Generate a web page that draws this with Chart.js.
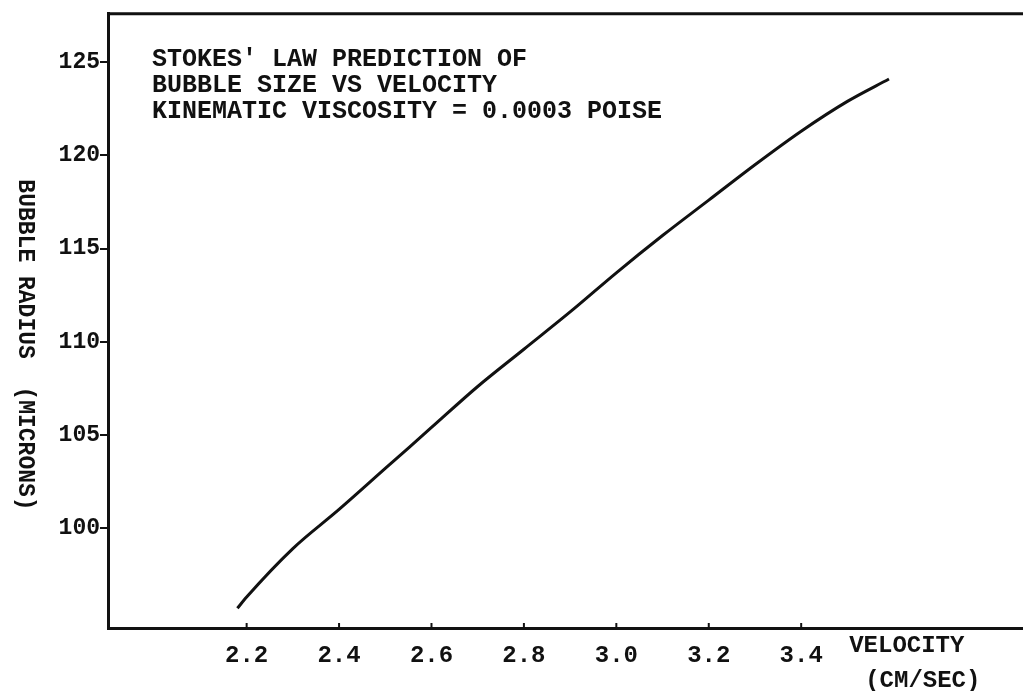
<!DOCTYPE html>
<html>
<head>
<meta charset="utf-8">
<script src="https://cdn.jsdelivr.net/npm/chart.js@4.4.1/dist/chart.umd.min.js"></script>
<style>
  html, body { margin: 0; padding: 0; background: #fff; }
  #wrap { width: 1023px; height: 691px; }
</style>
</head>
<body>
<div id="wrap"><canvas id="bubbleChart" width="1023" height="691"></canvas></div>
<script>
// values
const velocity = [2.18, 2.2, 2.3, 2.4, 2.5, 2.6, 2.7, 2.8, 2.9, 3.0, 3.1, 3.2, 3.3, 3.4, 3.5, 3.59];
const radius = [95.7, 96.3, 98.9, 101.0, 103.2, 105.4, 107.6, 109.6, 111.6, 113.7, 115.7, 117.6, 119.5, 121.3, 122.9, 124.1];
const xTickValues = [2.2, 2.4, 2.6, 2.8, 3.0, 3.2, 3.4];
const yTickValues = [100, 105, 110, 115, 120, 125];
const noteLines = ["STOKES' LAW PREDICTION OF", 'BUBBLE SIZE VS VELOCITY', 'KINEMATIC VISCOSITY = 0.0003 POISE'];
const yTitle = 'BUBBLE RADIUS  (MICRONS)';
const xTitle = ['VELOCITY', '(CM/SEC)'];

const mono = '"Liberation Mono", "DejaVu Sans Mono", monospace';

const extras = {
  id: 'extras',
  afterDraw(chart) {
    const ctx = chart.ctx;
    const area = chart.chartArea;
    const xs = chart.scales.x;
    ctx.save();
    ctx.strokeStyle = '#111';
    ctx.fillStyle = '#111';

    // top frame line
    ctx.lineWidth = 3;
    ctx.beginPath();
    ctx.moveTo(area.left, area.top);
    ctx.lineTo(area.right, area.top);
    ctx.stroke();

    // small inward ticks on the x axis
    ctx.lineWidth = 2;
    xTickValues.forEach(v => {
      const px = xs.getPixelForValue(v);
      ctx.beginPath();
      ctx.moveTo(px, area.bottom);
      ctx.lineTo(px, area.bottom - 5);
      ctx.stroke();
    });

    // note in upper left
    ctx.font = 'bold 25px ' + mono;
    ctx.textAlign = 'left';
    ctx.textBaseline = 'middle';
    noteLines.forEach((t, i) => {
      ctx.fillText(t, area.left + 44, area.top + 46 + i * 26);
    });

    // x axis title after the last tick
    const tx = xs.getPixelForValue(3.4) + 48;
    ctx.font = 'bold 24px ' + mono;
    ctx.fillText(xTitle[0], tx, area.bottom + 18);
    ctx.fillText(xTitle[1], tx + 16, area.bottom + 53);

    // y axis title, reads top to bottom
    ctx.translate(25, 345);
    ctx.rotate(Math.PI / 2);
    ctx.textAlign = 'center';
    ctx.font = 'bold 23px ' + mono;
    ctx.fillText(yTitle, 0, 0);
    ctx.restore();
  }
};

new Chart(document.getElementById('bubbleChart').getContext('2d'), {
  type: 'line',
  data: {
    datasets: [{
      data: velocity.map((v, i) => ({ x: v, y: radius[i] })),
      borderColor: '#111',
      borderWidth: 3,
      pointRadius: 0,
      cubicInterpolationMode: 'monotone',
      fill: false
    }]
  },
  options: {
    responsive: false,
    animation: false,
    layout: { padding: { top: 13, right: 0, left: 0, bottom: 0 } },
    plugins: { legend: { display: false }, tooltip: { enabled: false } },
    scales: {
      x: {
        type: 'linear',
        min: 1.9,
        max: 3.88,
        afterBuildTicks: s => { s.ticks = xTickValues.map(v => ({ value: v })); },
        afterFit: s => { s.height = 63; },
        grid: { display: false },
        border: { display: true, color: '#111', width: 3 },
        ticks: {
          color: '#111',
          padding: 6,
          maxRotation: 0,
          font: { family: mono, size: 24, weight: 'bold' },
          callback: v => v.toFixed(1)
        }
      },
      y: {
        type: 'linear',
        min: 94.64,
        max: 127.6,
        afterBuildTicks: s => { s.ticks = yTickValues.map(v => ({ value: v })); },
        afterFit: s => { s.width = 108; },
        grid: { drawOnChartArea: false, color: '#111', lineWidth: 2, tickLength: 8 },
        border: { display: true, color: '#111', width: 3 },
        ticks: {
          color: '#111',
          padding: 0,
          font: { family: mono, size: 23, weight: 'bold' },
          callback: v => String(v)
        }
      }
    }
  },
  plugins: [extras]
});
</script>
</body>
</html>
